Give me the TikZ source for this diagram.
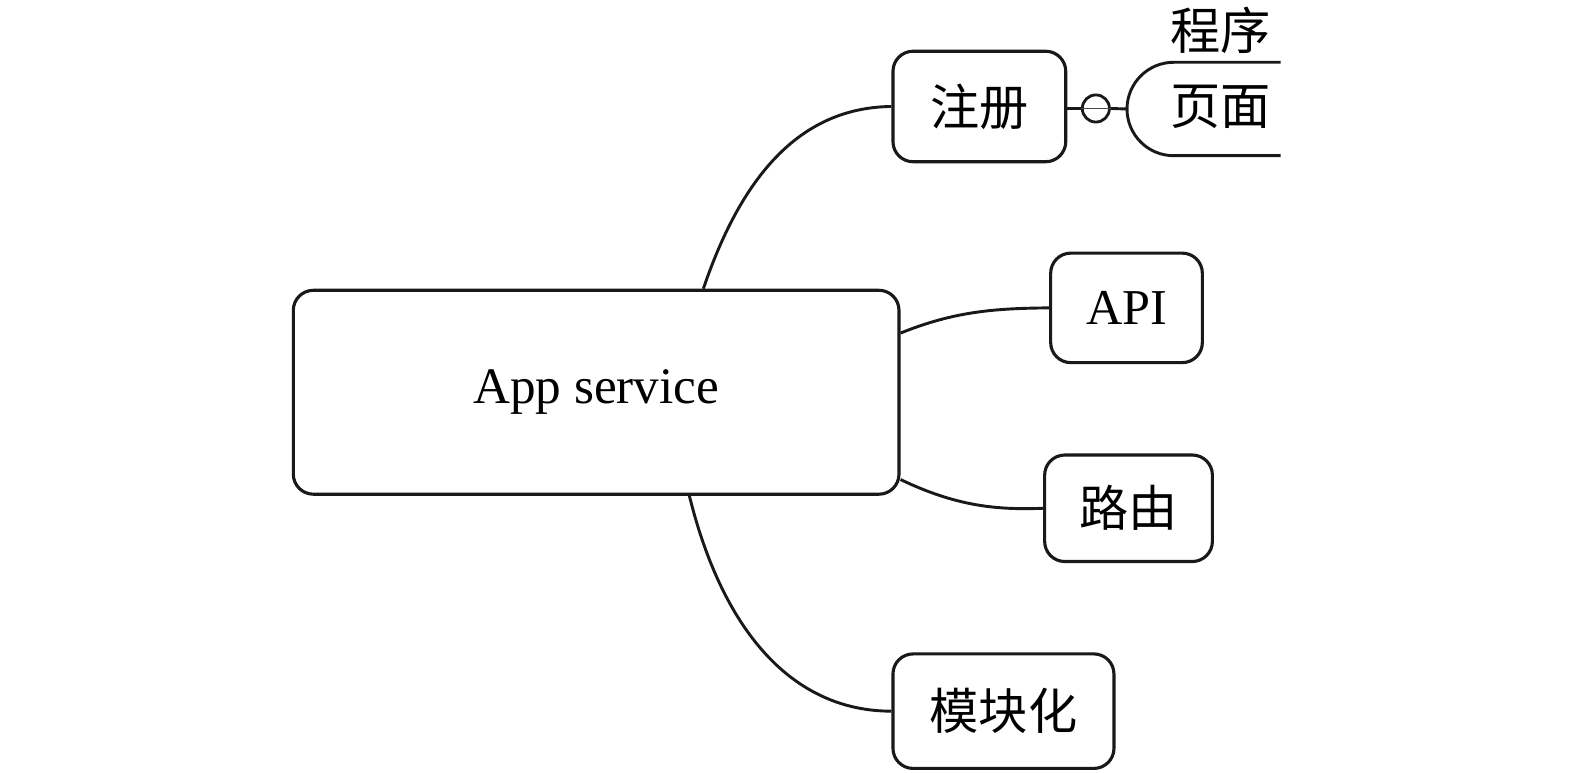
\documentclass[tikz,border=0pt]{standalone}
\usepackage{fontspec}
\setmainfont{Liberation Serif}
\newfontfamily\cjk{Noto Sans CJK SC}
\begin{document}
\begin{tikzpicture}[x=1pt,y=-1pt,
  box/.style={draw=black!90,line width=3.1pt,rounded corners=20pt,inner sep=0pt,fill=white},
  conn/.style={draw=black!90,line width=2.9pt},
  lbl/.style={inner sep=0pt,font=\fontsize{50}{60}\selectfont}]
\path[use as bounding box] (0,0) rectangle (1568,769);
\node[box,minimum width=603pt,minimum height=203pt,font=\fontsize{51}{60}\selectfont] (app) at (593.5,390.5) {App service};
\node[box,minimum width=172pt,minimum height=110pt,font=\cjk\fontsize{49}{60}\selectfont] (reg) at (975,106) {注册};
\node[box,minimum width=151pt,minimum height=109pt,font=\fontsize{50}{60}\selectfont] (api) at (1121.5,306.5) {API};
\node[box,minimum width=167pt,minimum height=106pt,font=\cjk\fontsize{49}{60}\selectfont] (route) at (1123.5,506) {路由};
\node[box,minimum width=220pt,minimum height=114pt,font=\cjk\fontsize{49}{60}\selectfont] (mod) at (999,708) {模块化};
\node[draw=black!90,line width=2.8pt,circle,minimum size=27pt,inner sep=0pt] (ring) at (1091,108) {};
\coordinate (pgl) at (1122,108.5);
\coordinate (pgtop) at (1275,62);
\coordinate (pgbot) at (1275,155);
\draw[conn] (pgtop) -- (1168.5,62) arc[start angle=-90,end angle=-270,radius=46.5] -- (pgbot);
\node[lbl,font=\cjk\fontsize{50}{60}\selectfont] (page) at (1215,106) {页面};
\node[lbl,font=\cjk\fontsize{50}{60}\selectfont] (prog) at (1215,30) {程序};
\draw[conn] (reg.east |- ring.west) -- (ring.west);
\draw[conn] (ring.east) -- (pgl);
\draw[draw=black!70,line width=1pt] (ring.west) -- (ring.east);
\draw[conn] (app.44.7) .. controls (740,170) and (800,107) .. (reg.west);
\draw[conn] (app.11.6) .. controls (950,310) and (990,307) .. (api.west);
\draw[conn] (app.-16) .. controls (950,503) and (990,508) .. (route.west);
\draw[conn] (app.-48) .. controls (720,630) and (790,708) .. (mod.west);
\end{tikzpicture}
\end{document}
